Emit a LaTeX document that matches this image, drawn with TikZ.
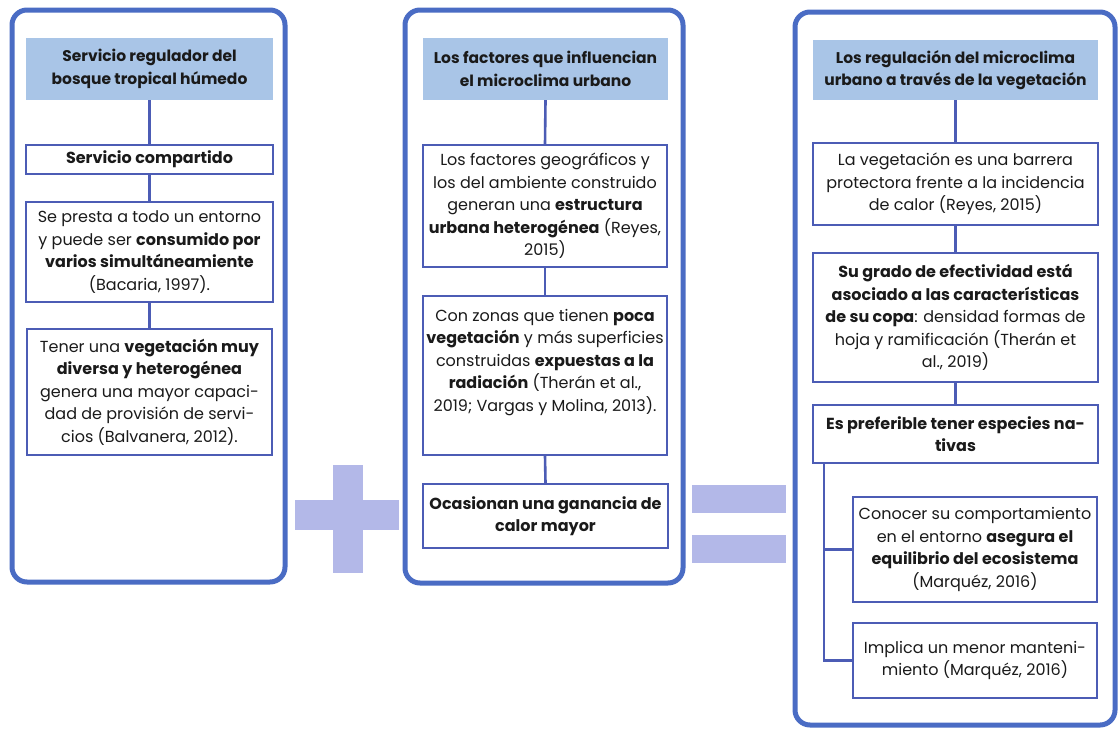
\documentclass[tikz,border=0pt]{standalone}
\usepackage{fontspec}
\setmainfont{Poppins}
\usetikzlibrary{calc}
\definecolor{panelblue}{HTML}{4A6CC4}
\definecolor{boxblue}{HTML}{4C5CB5}
\definecolor{headfill}{HTML}{A9C5E7}
\definecolor{signfill}{HTML}{B3B8E8}
\definecolor{ink}{HTML}{1A1A1A}
\newcommand{\boxfont}{\fontsize{16}{22.5}\selectfont}
\begin{document}
\begin{tikzpicture}[x=1pt,y=-1pt,
  panel/.style={draw=panelblue,line width=5pt,rounded corners=15pt,fill=white},
  head/.style={fill=headfill,text=ink,align=center,inner sep=0pt,
    font=\fontsize{15.5}{22.5}\selectfont\bfseries},
  box/.style={draw=boxblue,line width=2.2pt,fill=white,text=ink,align=center,inner sep=0pt,
    font=\boxfont},
  boldbox/.style={box,font=\boxfont\bfseries},
  link/.style={draw=boxblue,line width=2.6pt},
  sign/.style={fill=signfill}]
\useasboundingbox (0,0) rectangle (1118,728);
\fill[white] (0,0) rectangle (1118,728);

% ---------- column 1 ----------
\node[panel,minimum width=273,minimum height=572] (p1) at (148.5,296) {};
\node[head,minimum width=247,minimum height=62] (h1) at (149.5,69)
  {Servicio regulador del\\bosque tropical húmedo};
\node[boldbox,minimum width=247,minimum height=29] (b1a) at (149.5,159.5)
  {Servicio compartido};
\node[box,minimum width=247,minimum height=100] (b1b) at (149.5,252)
  {Se presta a todo un entorno\\y puede ser \textbf{consumido por}\\\textbf{varios simultáneamiente}\\(Bacaria, 1997).};
\node[box,minimum width=245,minimum height=126] (b1c) at (149.5,392)
  {Tener una \textbf{vegetación muy}\\\textbf{diversa y heterogénea}\\genera una mayor capaci-\\dad de provisión de servi-\\cios (Balvanera, 2012).};
\draw[link] (h1.south) -- (b1a.north);
\draw[link] (b1a.south) -- (b1b.north);
\draw[link] (b1b.south) -- (b1c.north);

% plus sign
\fill[sign] (333,465) rectangle (363,573);
\fill[sign] (295,500) rectangle (399,530);

% ---------- column 2 ----------
\node[panel,minimum width=278,minimum height=573] (p2) at (544,296.5) {};
\node[head,minimum width=245,minimum height=62] (h2) at (545.5,69)
  {Los factores que influencian\\el microclima urbano};
\node[box,minimum width=244,minimum height=122] (b2a) at (545,206)
  {Los factores geográficos y\\los del ambiente construido\\generan una \textbf{estructura}\\\textbf{urbana heterogénea} (Reyes,\\2015)};
\node[box,minimum width=244,minimum height=159] (b2b) at (545,375.5) {};
\node[text=ink,align=center,inner sep=0pt,font=\boxfont,anchor=north] (t2b) at (545,309)
  {Con zonas que tienen \textbf{poca}\\\textbf{vegetación} y más superficies\\construidas \textbf{expuestas a la}\\\textbf{radiación} (Therán et al.,\\2019; Vargas y Molina, 2013).};
\node[boldbox,minimum width=245,minimum height=64] (b2c) at (545.5,516)
  {Ocasionan una ganancia de\\calor mayor};
\draw[link] (h2.south) -- (b2a.north);
\draw[link] (b2a.south) -- (b2b.north);
\draw[link] (b2b.south) -- (b2c.north);

% equals sign
\fill[sign] (692,485) rectangle (786,513);
\fill[sign] (692,535) rectangle (786,563);

% ---------- column 3 ----------
\node[panel,minimum width=320,minimum height=713] (p3) at (955,368.5) {};
\node[head,minimum width=285,minimum height=60] (h3) at (955.5,70)
  {Los regulación del microclima\\urbano a través de la vegetación};
\node[box,minimum width=285,minimum height=82] (b3a) at (955.5,184)
  {La vegetación es una barrera\\protectora frente a la incidencia\\de calor (Reyes, 2015)};
\node[box,minimum width=285,minimum height=129] (b3b) at (955.5,317.5)
  {\textbf{Su grado de efectividad está}\\\textbf{asociado a las características}\\\textbf{de su copa}: densidad formas de\\hoja y ramificación (Therán et\\al., 2019)};
\node[boldbox,minimum width=285,minimum height=58] (b3c) at (955.5,434)
  {Es preferible tener especies na-\\tivas};
\node[box,minimum width=244,minimum height=105] (b3d) at (975,549.5)
  {Conocer su comportamiento\\en el entorno \textbf{asegura el}\\\textbf{equilibrio del ecosistema}\\(Marquéz, 2016)};
\node[box,minimum width=244,minimum height=75] (b3e) at (975,660.5)
  {Implica un menor manteni-\\miento (Marquéz, 2016)};
\draw[link] (h3.south) -- (b3a.north);
\draw[link] (b3a.south) -- (b3b.north);
\draw[link] (b3b.south) -- (b3c.north);
\coordinate (fork) at ($(b3c.south west)+(12,0)$);
\draw[link] (fork) |- (b3d.west);
\draw[link] (fork) |- (b3e.west);
\end{tikzpicture}
\end{document}
